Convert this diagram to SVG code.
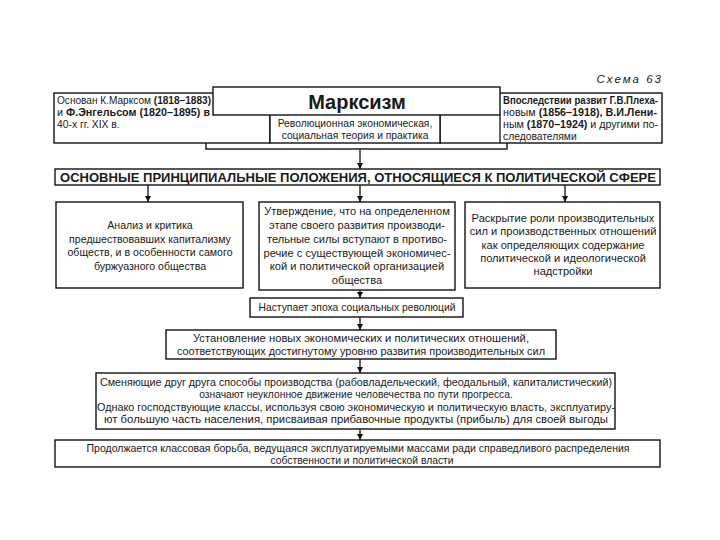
<svg xmlns="http://www.w3.org/2000/svg" width="720" height="540" viewBox="0 0 720 540">
<defs>
<style>
.box{fill:#fff;stroke:#111;stroke-width:1.4}
.t{font-family:"Liberation Sans",Arial,sans-serif;font-size:10.3px;fill:#1a1a1a}
.c{text-anchor:middle}
.b{font-weight:bold}
.m{font-size:11.1px}
.con{stroke:#111;stroke-width:1.3;fill:none}
</style>
<marker id="ah" viewBox="0 0 10 10" refX="10" refY="5" markerWidth="6" markerHeight="6" markerUnits="userSpaceOnUse" orient="auto">
<path d="M0,0 L10,5 L0,10 z" fill="#111"/>
</marker>
</defs>
<rect width="720" height="540" fill="#fff"/>

<text class="t" x="663" y="83" text-anchor="end" style="font-style:italic;font-size:11.5px;letter-spacing:2px">Схема 63</text>

<g id="background">
<rect class="box" x="206" y="100" width="301" height="49"/>
</g>
<g id="founders">
<rect class="box" x="54" y="93" width="216" height="50"/>
<text class="t" x="57" y="104" textLength="154" lengthAdjust="spacingAndGlyphs">Основан К.Марксом <tspan class="b">(1818–1883)</tspan></text>
<text class="t" x="57" y="116" textLength="153" lengthAdjust="spacingAndGlyphs">и <tspan class="b">Ф.Энгельсом (1820–1895) в</tspan></text>
<text class="t" x="57" y="128">40-х гг. XIX в.</text>
</g>
<g id="followers">
<rect class="box" x="440" y="93" width="222" height="50"/>
<line class="con" x1="500" y1="115" x2="500" y2="143"/>
<text class="t b" x="503" y="104" textLength="155" lengthAdjust="spacingAndGlyphs">Впоследствии развит Г.В.Плеха-</text>
<text class="t" x="503" y="116" textLength="154" lengthAdjust="spacingAndGlyphs">новым <tspan class="b">(1856–1918), В.И.Лени-</tspan></text>
<text class="t" x="503" y="128" textLength="155" lengthAdjust="spacingAndGlyphs">ным <tspan class="b">(1870–1924)</tspan> и другими по-</text>
<text class="t" x="503" y="140">следователями</text>
</g>
<g id="subtitle">
<rect class="box" x="270" y="110" width="170" height="33"/>
<text class="t c" x="355" y="127">Революционная экономическая,</text>
<text class="t c" x="355" y="139">социальная теория и практика</text>
</g>
<g id="marxism">
<rect class="box" x="213" y="87" width="287" height="28"/>
<text class="t c b" x="357" y="109" style="font-size:20px">Марксизм</text>
</g>

<g id="heading">
<rect class="box" x="55" y="169" width="605" height="16"/>
<text class="t b" x="60" y="182" style="font-size:12.5px" textLength="596" lengthAdjust="spacingAndGlyphs">ОСНОВНЫЕ ПРИНЦИПИАЛЬНЫЕ ПОЛОЖЕНИЯ, ОТНОСЯЩИЕСЯ К ПОЛИТИЧЕСКОЙ СФЕРЕ</text>
</g>

<g id="analysis">
<rect class="box" x="56" y="202" width="187" height="86"/>
<text class="t c" x="150" y="229" style="font-size:10.6px">Анализ и критика</text>
<text class="t c" x="150" y="243" style="font-size:10.6px">предшествовавших капитализму</text>
<text class="t c" x="150" y="256" style="font-size:10.6px">обществ, и в особенности самого</text>
<text class="t c" x="150" y="270" style="font-size:10.6px">буржуазного общества</text>
</g>
<g id="contradiction">
<rect class="box" x="259" y="202" width="196" height="88"/>
<text class="t c m" x="357" y="215">Утверждение, что на определенном</text>
<text class="t c m" x="357" y="229">этапе своего развития производи-</text>
<text class="t c m" x="357" y="243">тельные силы вступают в противо-</text>
<text class="t c m" x="357" y="257">речие с существующей экономичес-</text>
<text class="t c m" x="357" y="270">кой и политической организацией</text>
<text class="t c m" x="357" y="284">общества</text>
</g>
<g id="forces">
<rect class="box" x="465" y="202" width="195" height="86"/>
<text class="t c m" x="563" y="222">Раскрытие роли производительных</text>
<text class="t c m" x="563" y="235">сил и производственных отношений</text>
<text class="t c m" x="563" y="249">как определяющих содержание</text>
<text class="t c m" x="563" y="262">политической и идеологической</text>
<text class="t c m" x="563" y="275">надстройки</text>
</g>

<g id="revolution">
<rect class="box" x="250" y="298" width="213" height="19"/>
<text class="t c" x="357" y="311">Наступает эпоха социальных революций</text>
</g>
<g id="establish">
<rect class="box" x="166" y="330" width="390" height="29"/>
<text class="t c" x="361" y="342" textLength="336" lengthAdjust="spacingAndGlyphs">Установление новых экономических и политических отношений,</text>
<text class="t c" x="361" y="355" textLength="368" lengthAdjust="spacingAndGlyphs">соответствующих достигнутому уровню развития производительных сил</text>
</g>
<g id="modes">
<rect class="box" x="96" y="373" width="519" height="56"/>
<text class="t c" x="356" y="386" textLength="512" lengthAdjust="spacingAndGlyphs">Сменяющие друг друга способы производства (рабовладельческий, феодальный, капиталистический)</text>
<text class="t c" x="356" y="398">означают неуклонное движение человечества по пути прогресса.</text>
<text class="t c" x="356" y="411" textLength="518" lengthAdjust="spacingAndGlyphs">Однако господствующие классы, используя свою экономическую и политическую власть, эксплуатиру-</text>
<text class="t c" x="356" y="423" textLength="504" lengthAdjust="spacingAndGlyphs">ют большую часть населения, присваивая прибавочные продукты (прибыль) для своей выгоды</text>
</g>
<g id="struggle">
<rect class="box" x="55" y="440" width="605" height="27"/>
<text class="t c" x="358" y="452" textLength="543" lengthAdjust="spacingAndGlyphs">Продолжается классовая борьба, ведущаяся эксплуатируемыми массами ради справедливого распределения</text>
<text class="t c" x="362" y="464">собственности и политической власти</text>
</g>

<g id="connectors">
<line class="con" x1="360" y1="149" x2="360" y2="169" marker-end="url(#ah)"/>
<line class="con" x1="148" y1="185" x2="148" y2="202" marker-end="url(#ah)"/>
<line class="con" x1="360" y1="185" x2="360" y2="202" marker-end="url(#ah)"/>
<line class="con" x1="565" y1="185" x2="565" y2="202" marker-end="url(#ah)"/>
<line class="con" x1="360" y1="290" x2="360" y2="298" marker-end="url(#ah)"/>
<line class="con" x1="360" y1="317" x2="360" y2="330" marker-end="url(#ah)"/>
<line class="con" x1="360" y1="359" x2="360" y2="373" marker-end="url(#ah)"/>
<line class="con" x1="360" y1="429" x2="360" y2="440" marker-end="url(#ah)"/>
</g>
</svg>
